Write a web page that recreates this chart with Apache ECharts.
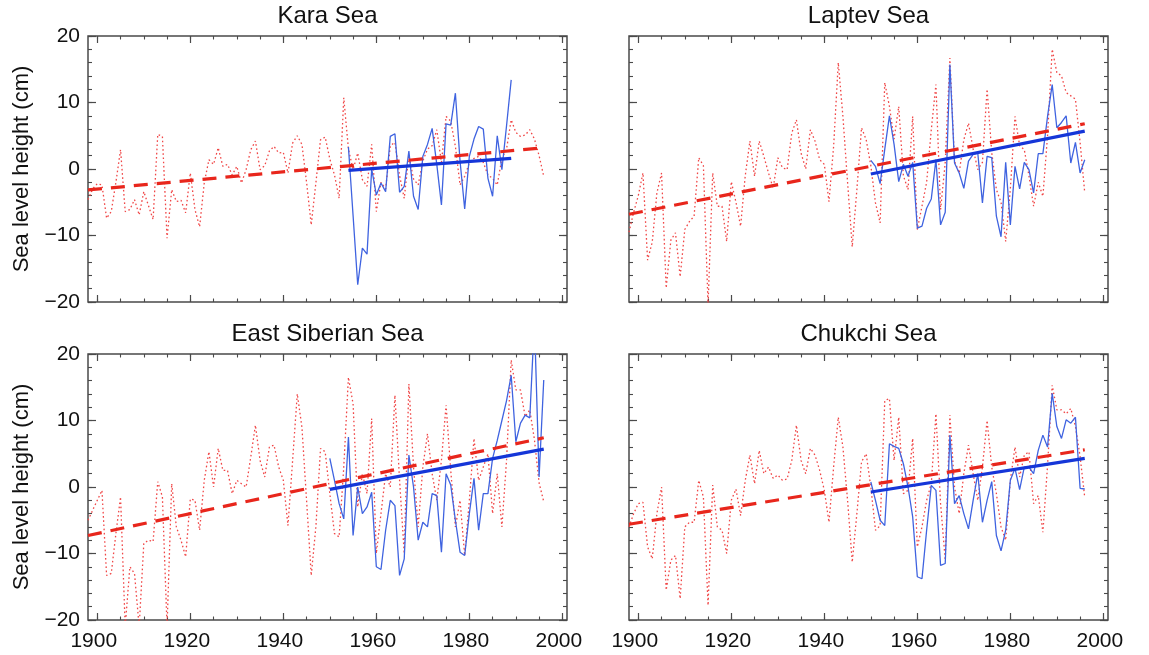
<!DOCTYPE html>
<html>
<head>
<meta charset="utf-8">
<script src="https://cdn.jsdelivr.net/npm/echarts@6/dist/echarts.min.js"></script>
<style>
html,body{margin:0;padding:0;background:#fff;}
#chart{width:1149px;height:655px;}
</style>
</head>
<body>
<div id="chart"></div>
<script>
// ---------- data ----------
const titles = ['Kara Sea', 'Laptev Sea', 'East Siberian Sea', 'Chukchi Sea'];
const redStartYear = 1898;   // annual values 1898..1996
const karaRed = [
  -4.6,-3.0,-2.2,-2.4,-7.4,-6.4,-2.0,2.9,-6.4,-6.1,
  -4.6,-6.9,-3.4,-5.5,-7.6,5.2,4.9,-10.4,-3.1,-4.9,
  -4.7,-6.6,-0.6,-6.1,-8.7,-2.1,1.4,0.7,3.2,0.4,
  0.7,-0.9,0.4,-2.1,-0.1,2.9,4.2,-0.1,0.5,2.7,
  3.4,2.4,2.5,-0.6,3.9,5.0,3.7,-2.0,-8.4,-2.1,
  4.4,4.8,1.5,-0.9,-4.4,10.7,3.0,-0.1,2.4,-1.6,
  -2.6,3.7,-6.4,-2.0,-3.0,3.5,4.0,-1.0,-4.4,2.0,
  -1.5,-2.4,1.2,3.0,3.5,5.9,1.0,7.9,7.2,3.4,
  -2.4,-1.1,0.9,1.6,1.9,1.0,-0.9,-1.4,-2.4,1.6,
  3.0,7.4,5.5,4.9,5.1,5.9,4.5,2.0,-1.1
];
const laptevRed = [
  -9.5,-6.5,-4.0,-0.6,-13.7,-11.0,-3.6,-0.6,-17.9,-10.7,
  -9.6,-16.2,-9.1,-7.9,-7.1,1.7,0.5,-20.5,-0.6,-5.6,
  -5.6,-10.9,-1.9,-5.0,-8.6,-1.0,4.2,-1.1,4.2,1.9,
  -0.6,-2.9,1.7,0.2,-0.1,5.4,7.4,2.4,0.0,5.9,
  4.2,1.4,0.7,-4.9,3.4,16.0,7.9,-2.0,-11.7,-3.1,
  6.2,4.4,0.5,-5.1,-8.1,13.0,9.4,4.5,9.4,-1.0,
  -3.1,7.9,-9.1,-5.6,-2.0,5.9,12.7,-6.1,1.0,16.7,
  1.2,-0.6,4.4,6.9,3.0,-0.1,1.0,12.0,2.5,-3.1,
  -5.0,-10.9,-3.0,7.9,3.5,2.9,-1.0,-5.6,-2.0,-4.1,
  5.0,18.0,14.5,14.0,11.5,11.0,10.5,4.0,-3.6
];
const eastSibRed = [
  -5.0,-3.5,-2.0,-0.5,-13.3,-13.0,-7.0,-1.5,-21.0,-12.0,
  -13.0,-21.0,-8.5,-8.0,-8.2,0.8,-1.5,-21.0,0.5,-6.0,
  -8.0,-10.5,-1.8,-2.0,-6.5,1.0,5.3,0.0,5.8,2.5,
  2.5,-1.0,1.0,0.5,0.0,4.5,9.3,4.0,1.5,6.0,
  6.3,3.0,1.0,-5.8,4.0,14.0,9.0,-2.0,-13.3,-6.0,
  5.8,5.3,-1.0,-7.0,-7.5,3.0,16.5,12.5,-3.0,2.0,
  -1.0,10.3,-10.0,-4.0,2.0,0.0,13.8,1.0,-10.0,15.5,
  3.0,-6.0,3.0,8.0,2.0,-2.0,4.0,12.3,2.5,-6.0,
  -2.0,-10.3,-2.0,7.3,1.0,3.0,5.0,-4.0,2.0,-6.0,
  4.0,19.1,14.6,14.6,10.6,11.6,7.1,0.6,-2.2
];
const chukchiRed = [
  -6.0,-4.0,-2.5,-2.3,-9.0,-10.8,-4.0,0.0,-15.5,-11.0,
  -10.3,-16.8,-6.0,-5.3,-5.3,1.0,-1.5,-17.8,0.3,-6.0,
  -6.5,-10.0,-2.0,-0.3,-4.3,1.0,4.8,0.5,5.5,2.0,
  3.0,1.3,1.8,1.0,1.2,4.0,9.3,4.0,2.0,5.8,
  4.8,2.5,-0.5,-5.3,3.0,10.5,6.0,-2.0,-11.3,-4.0,
  3.8,5.0,0.0,-6.5,-5.8,13.0,13.3,4.0,10.5,-1.0,
  -0.5,7.3,-9.0,-6.0,-2.0,0.5,11.0,-2.5,-11.0,10.8,
  0.0,-4.0,2.0,6.3,2.0,-2.0,3.0,10.0,3.0,-1.0,
  -6.0,-8.0,1.0,6.0,1.5,4.8,5.3,-2.5,-1.3,-6.8,
  3.2,15.3,11.6,11.6,11.0,11.8,9.1,4.6,-1.6
];
const karaBlueStart = 1954;  // 1954..1989
const karaBlue = [
  3.3,-7.0,-17.4,-11.9,-12.8,0.0,-3.9,-2.1,-3.4,4.9,
  5.3,-3.5,-2.6,2.7,-4.1,-6.1,1.9,3.7,6.1,0.7,
  -5.4,6.8,6.6,11.4,1.2,-6.0,1.9,4.5,6.4,6.0,
  -1.4,-4.1,5.0,-0.1,6.5,13.4
];
const blueStart = 1950;      // 1950..1996
const laptevBlue = [
  1.3,0.4,-2.2,3.0,8.0,3.7,-1.9,0.7,-1.1,1.0,
  -8.9,-8.6,-5.9,-4.5,1.4,-8.4,-6.5,15.7,0.9,-0.6,
  -2.9,1.2,2.2,2.4,-5.1,1.9,1.7,-7.1,-10.2,1.0,
  -8.4,0.4,-3.0,1.0,-0.1,-3.6,2.3,2.3,7.9,12.7,
  6.2,7.0,8.0,0.9,4.0,-0.6,1.4
];
const eastSibBlue = [
  4.3,1.0,-2.5,-4.8,7.5,-7.3,0.0,-4.0,-3.0,-0.8,
  -12.0,-12.4,-6.5,-2.0,-2.8,-13.3,-10.8,4.8,0.0,-8.0,
  -5.3,-6.0,-1.0,-1.3,-9.8,2.0,0.3,-5.0,-9.8,-10.3,
  -4.0,1.3,-6.5,-1.0,-1.0,4.3,7.0,10.0,13.0,16.8,
  6.8,9.6,10.8,10.4,25.0,1.5,16.1
];
const chukchiBlue = [
  0.75,-2.0,-5.0,-5.8,6.5,6.1,5.8,3.5,0.0,-4.5,
  -13.5,-13.8,-6.5,0.25,-0.5,-11.8,-11.5,7.8,-2.5,-1.3,
  -4.0,-6.3,-2.0,2.0,-5.3,-2.0,0.8,-7.3,-9.6,-6.5,
  1.0,2.8,-0.4,3.0,3.0,2.0,5.5,7.8,6.0,14.1,
  9.1,7.3,10.1,9.6,10.5,-0.2,-0.3
];
// trend line end points [year, cm]
const karaRedTrend = [[1898,-3.15],[1996,3.2]];
const karaBlueTrend = [[1954,-0.2],[1989,1.6]];
const laptevRedTrend = [[1898,-6.8],[1996,6.8]];
const laptevBlueTrend = [[1950,-0.75],[1996,5.7]];
const eastSibRedTrend = [[1898,-7.3],[1996,7.4]];
const eastSibBlueTrend = [[1950,-0.35],[1996,5.7]];
const chukchiRedTrend = [[1898,-5.6],[1996,5.6]];
const chukchiBlueTrend = [[1950,-0.75],[1996,4.3]];
// tick values
const xMajorTicks = [1900,1920,1940,1960,1980,2000];
const xMinorTicks = [1900,1905,1910,1915,1920,1925,1930,1935,1940,1945,1950,1955,1960,1965,1970,1975,1980,1985,1990,1995,2000];
const yMajorTicks = [-20,-10,0,10,20];
const yMinorTicks = [-20,-18,-16,-14,-12,-10,-8,-6,-4,-2,0,2,4,6,8,10,12,14,16,18,20];

// ---------- chart ----------
const FONT = "'Liberation Sans', Arial, Helvetica, sans-serif";
const FRAME = '#4a4a4a';
const panels = [
  {title: titles[0], red: karaRed, blue: karaBlue, bStart: karaBlueStart, rt: karaRedTrend, bt: karaBlueTrend},
  {title: titles[1], red: laptevRed, blue: laptevBlue, bStart: blueStart, rt: laptevRedTrend, bt: laptevBlueTrend},
  {title: titles[2], red: eastSibRed, blue: eastSibBlue, bStart: blueStart, rt: eastSibRedTrend, bt: eastSibBlueTrend},
  {title: titles[3], red: chukchiRed, blue: chukchiBlue, bStart: blueStart, rt: chukchiRedTrend, bt: chukchiBlueTrend}
];
const gridLefts = [88, 629];
const gridTops = [36, 354];
const GW = 479, GH = 266;

const grids = [], xAxes = [], yAxes = [], series = [], graphics = [];

function fmtY(v){ return v < 0 ? '\u2212' + Math.abs(v) : String(v); }
function fmtX(v){ return String(Math.round(v)); }

panels.forEach((p, g) => {
  const col = g % 2, row = Math.floor(g / 2);
  const left = gridLefts[col], top = gridTops[row];
  grids.push({left: left, top: top, width: GW, height: GH, show: true,
    borderColor: FRAME, borderWidth: 1.5, backgroundColor: 'transparent', containLabel: false});
  graphics.push({type: 'text', x: left + GW / 2, y: top - 19.5,
    style: {text: p.title, fontSize: 24, fontFamily: FONT, fill: '#111', align: 'center', verticalAlign: 'middle'}});

  const baseX = {type: 'value', gridIndex: g, min: 1898, max: 2001, splitLine: {show: false},
    axisLine: {show: false, onZero: false}};
  const xi = xAxes.length;
  xAxes.push(Object.assign({}, baseX, {position: 'bottom',
    axisTick: {show: true, inside: true, length: 7, customValues: xMajorTicks, lineStyle: {color: FRAME, width: 1.2}},
    axisLabel: {show: row === 1, customValues: xMajorTicks, formatter: fmtX, fontSize: 21, fontFamily: FONT,
      color: '#111', margin: 11, padding: [0, 7, 0, 0]}}));
  xAxes.push(Object.assign({}, baseX, {position: 'bottom',
    axisTick: {show: true, inside: true, length: 3.5, customValues: xMinorTicks, lineStyle: {color: FRAME, width: 1.1}},
    axisLabel: {show: false}}));
  xAxes.push(Object.assign({}, baseX, {position: 'top',
    axisTick: {show: true, inside: true, length: 7, customValues: xMajorTicks, lineStyle: {color: FRAME, width: 1.2}},
    axisLabel: {show: false}}));
  xAxes.push(Object.assign({}, baseX, {position: 'top',
    axisTick: {show: true, inside: true, length: 3.5, customValues: xMinorTicks, lineStyle: {color: FRAME, width: 1.1}},
    axisLabel: {show: false}}));

  const baseY = {type: 'value', gridIndex: g, min: -20, max: 20, splitLine: {show: false},
    axisLine: {show: false, onZero: false}};
  const yi = yAxes.length;
  const mainY = Object.assign({}, baseY, {position: 'left',
    axisTick: {show: true, inside: true, length: 8, customValues: yMajorTicks, lineStyle: {color: FRAME, width: 1.2}},
    axisLabel: {show: col === 0, customValues: yMajorTicks, fontSize: 21, fontFamily: FONT, color: '#111', margin: 8, formatter: fmtY}});
  if (col === 0) {
    mainY.name = 'Sea level height (cm)';
    mainY.nameLocation = 'middle';
    mainY.nameGap = 55;
    mainY.nameTextStyle = {fontSize: 22, fontFamily: FONT, color: '#111'};
  }
  yAxes.push(mainY);
  yAxes.push(Object.assign({}, baseY, {position: 'left',
    axisTick: {show: true, inside: true, length: 4, customValues: yMinorTicks, lineStyle: {color: FRAME, width: 1.1}},
    axisLabel: {show: false}}));
  yAxes.push(Object.assign({}, baseY, {position: 'right',
    axisTick: {show: true, inside: true, length: 8, customValues: yMajorTicks, lineStyle: {color: FRAME, width: 1.2}},
    axisLabel: {show: false}}));
  yAxes.push(Object.assign({}, baseY, {position: 'right',
    axisTick: {show: true, inside: true, length: 4, customValues: yMinorTicks, lineStyle: {color: FRAME, width: 1.1}},
    axisLabel: {show: false}}));

  const common = {type: 'line', xAxisIndex: xi, yAxisIndex: yi, showSymbol: false, symbol: 'none',
    animation: false, clip: true, silent: true};
  series.push(Object.assign({}, common, {name: p.title + ' annual (red)',
    data: p.red.map((v, i) => [redStartYear + i, v]),
    lineStyle: {color: '#f04646', width: 1.3, type: [1.6, 2.6]}, z: 2}));
  series.push(Object.assign({}, common, {name: p.title + ' annual (blue)',
    data: p.blue.map((v, i) => [p.bStart + i, v]),
    lineStyle: {color: '#3f63e0', width: 1.3}, z: 3}));
  series.push(Object.assign({}, common, {name: p.title + ' trend (red)',
    data: p.rt, lineStyle: {color: '#e8261c', width: 3.2, type: [14, 9]}, z: 4}));
  series.push(Object.assign({}, common, {name: p.title + ' trend (blue)',
    data: p.bt, lineStyle: {color: '#1536d8', width: 3.2}, z: 5}));
});

const chart = echarts.init(document.getElementById('chart'), null, {renderer: 'canvas'});
chart.setOption({
  backgroundColor: '#ffffff',
  animation: false,
  grid: grids,
  xAxis: xAxes,
  yAxis: yAxes,
  series: series,
  graphic: graphics
});
</script>
</body>
</html>
